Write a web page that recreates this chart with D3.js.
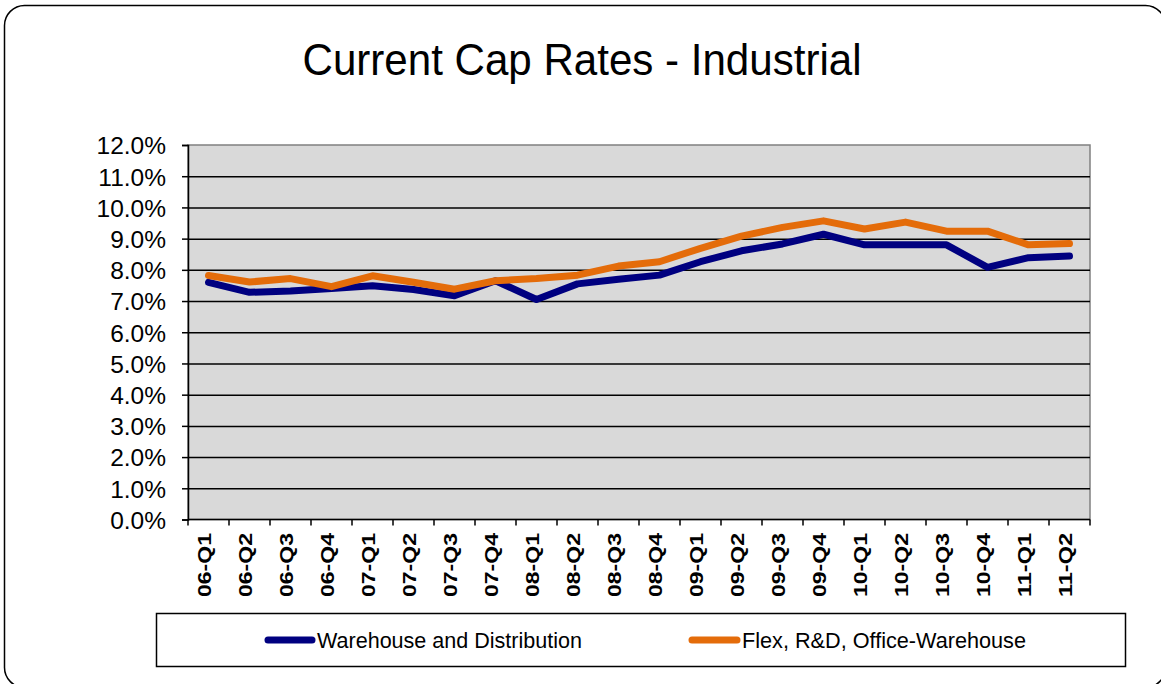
<!DOCTYPE html>
<html>
<head>
<meta charset="utf-8">
<script src="https://cdn.jsdelivr.net/npm/d3@7"></script>
<style>
  html, body { margin: 0; padding: 0; background: #fff; }
  svg { display: block; font-family: "Liberation Sans", Arial, sans-serif; }
</style>
</head>
<body>
<div id="chart"></div>
<script>
// Quarter labels and cap rates (fractions)
const quarters = ["06-Q1", "06-Q2", "06-Q3", "06-Q4", "07-Q1", "07-Q2", "07-Q3", "07-Q4",
  "08-Q1", "08-Q2", "08-Q3", "08-Q4", "09-Q1", "09-Q2", "09-Q3", "09-Q4",
  "10-Q1", "10-Q2", "10-Q3", "10-Q4", "11-Q1", "11-Q2"];
const warehouse = [0.0760, 0.0728, 0.0732, 0.0740, 0.0749, 0.0737, 0.0717, 0.0765,
  0.0705, 0.0755, 0.0770, 0.0783, 0.0826, 0.0861, 0.0883, 0.0914,
  0.0880, 0.0880, 0.0880, 0.0808, 0.0839, 0.0844];
const flex = [0.0782, 0.0761, 0.0772, 0.0746, 0.0781, 0.0760, 0.0738, 0.0765,
  0.0772, 0.0783, 0.0812, 0.0826, 0.0869, 0.0908, 0.0936, 0.0957,
  0.0931, 0.0953, 0.0924, 0.0924, 0.0880, 0.0884];
const yTicks = [0, 0.01, 0.02, 0.03, 0.04, 0.05, 0.06, 0.07, 0.08, 0.09, 0.10, 0.11, 0.12];
const seriesNames = ["Warehouse and Distribution", "Flex, R&D, Office-Warehouse"];
const seriesColors = ["#000080", "#e46c0a"];

const width = 1161, height = 684;
const plot = {left: 188, right: 1090, top: 145, bottom: 519.5};

const svg = d3.select("#chart").append("svg")
  .attr("width", width)
  .attr("height", height)
  .attr("viewBox", [0, 0, width, height]);

// outer rounded frame (runs off the right and bottom edges)
svg.append("rect")
  .attr("x", 4.5).attr("y", 5.5)
  .attr("width", 1161).attr("height", 682)
  .attr("rx", 20).attr("ry", 20)
  .attr("fill", "#fff")
  .attr("stroke", "#000")
  .attr("stroke-width", 1.5);

svg.append("text")
  .attr("x", 582).attr("y", 75)
  .attr("text-anchor", "middle")
  .attr("font-size", 45)
  .attr("textLength", 559)
  .attr("lengthAdjust", "spacingAndGlyphs")
  .text("Current Cap Rates - Industrial");

const x = d3.scaleBand().domain(quarters).range([plot.left, plot.right]);
const y = d3.scaleLinear().domain([0, 0.12]).range([plot.bottom, plot.top]);

// plot background
svg.append("rect")
  .attr("x", plot.left).attr("y", plot.top)
  .attr("width", plot.right - plot.left).attr("height", plot.bottom - plot.top)
  .attr("fill", "#d9d9d9")
  .attr("stroke", "#808080")
  .attr("stroke-width", 1.5);

// gridlines
svg.append("g")
  .attr("transform", `translate(${plot.left},0)`)
  .call(d3.axisLeft(y).tickValues(yTicks.slice(1, -1)).tickSize(-(plot.right - plot.left)).tickFormat(""))
  .call(g => g.select(".domain").remove())
  .call(g => g.selectAll("line").attr("stroke", "#000").attr("stroke-width", 1.5));

// y axis
svg.append("g")
  .attr("transform", `translate(${plot.left},0)`)
  .call(d3.axisLeft(y).tickValues(yTicks).tickSize(6).tickPadding(16).tickFormat(d3.format(".1%")))
  .call(g => g.select(".domain").attr("stroke", "#000").attr("stroke-width", 1.5))
  .call(g => g.selectAll("line").attr("stroke", "#000").attr("stroke-width", 1.5))
  .call(g => g.selectAll("text")
    .attr("font-family", "'Liberation Sans', Arial, sans-serif")
    .attr("font-size", 24.5)
    .attr("fill", "#000")
    .attr("dy", "0.36em"));

// x axis line and boundary ticks
const xAxis = svg.append("g");
xAxis.append("line")
  .attr("x1", plot.left).attr("x2", plot.right)
  .attr("y1", plot.bottom).attr("y2", plot.bottom)
  .attr("stroke", "#000").attr("stroke-width", 1.5);
xAxis.selectAll(".tick")
  .data(quarters.map(q => x(q)).concat([x.range()[1]]))
  .join("line")
  .attr("x1", d => d).attr("x2", d => d)
  .attr("y1", plot.bottom).attr("y2", plot.bottom + 6)
  .attr("stroke", "#000").attr("stroke-width", 1.5);
xAxis.selectAll("text")
  .data(quarters)
  .join("text")
  .attr("transform", d => `translate(${x(d) + x.bandwidth() / 2 + 2.5},533) rotate(-90)`)
  .attr("text-anchor", "end")
  .attr("font-weight", "bold")
  .attr("font-size", 19)
  .attr("textLength", 64)
  .attr("lengthAdjust", "spacingAndGlyphs")
  .text(d => d);

// series lines
const line = d3.line()
  .x((d, i) => x(quarters[i]) + x.bandwidth() / 2)
  .y(d => y(d));

[warehouse, flex].forEach((values, k) => {
  svg.append("path")
    .datum(values)
    .attr("fill", "none")
    .attr("stroke", seriesColors[k])
    .attr("stroke-width", 7)
    .attr("stroke-linejoin", "round")
    .attr("stroke-linecap", "round")
    .attr("d", line);
});

// legend
const legend = svg.append("g");
legend.append("rect")
  .attr("x", 156.5).attr("y", 613.5)
  .attr("width", 969).attr("height", 53)
  .attr("fill", "#fff")
  .attr("stroke", "#000")
  .attr("stroke-width", 1.5);

const legendItems = [
  {lx1: 268, lx2: 312, tx: 317, tw: 265},
  {lx1: 692, lx2: 737, tx: 742, tw: 284}
];
legendItems.forEach((it, k) => {
  legend.append("line")
    .attr("x1", it.lx1).attr("x2", it.lx2)
    .attr("y1", 640).attr("y2", 640)
    .attr("stroke", seriesColors[k])
    .attr("stroke-width", 7)
    .attr("stroke-linecap", "round");
  legend.append("text")
    .attr("x", it.tx).attr("y", 648)
    .attr("font-size", 22)
    .attr("textLength", it.tw)
    .attr("lengthAdjust", "spacingAndGlyphs")
    .text(seriesNames[k]);
});
</script>
</body>
</html>
